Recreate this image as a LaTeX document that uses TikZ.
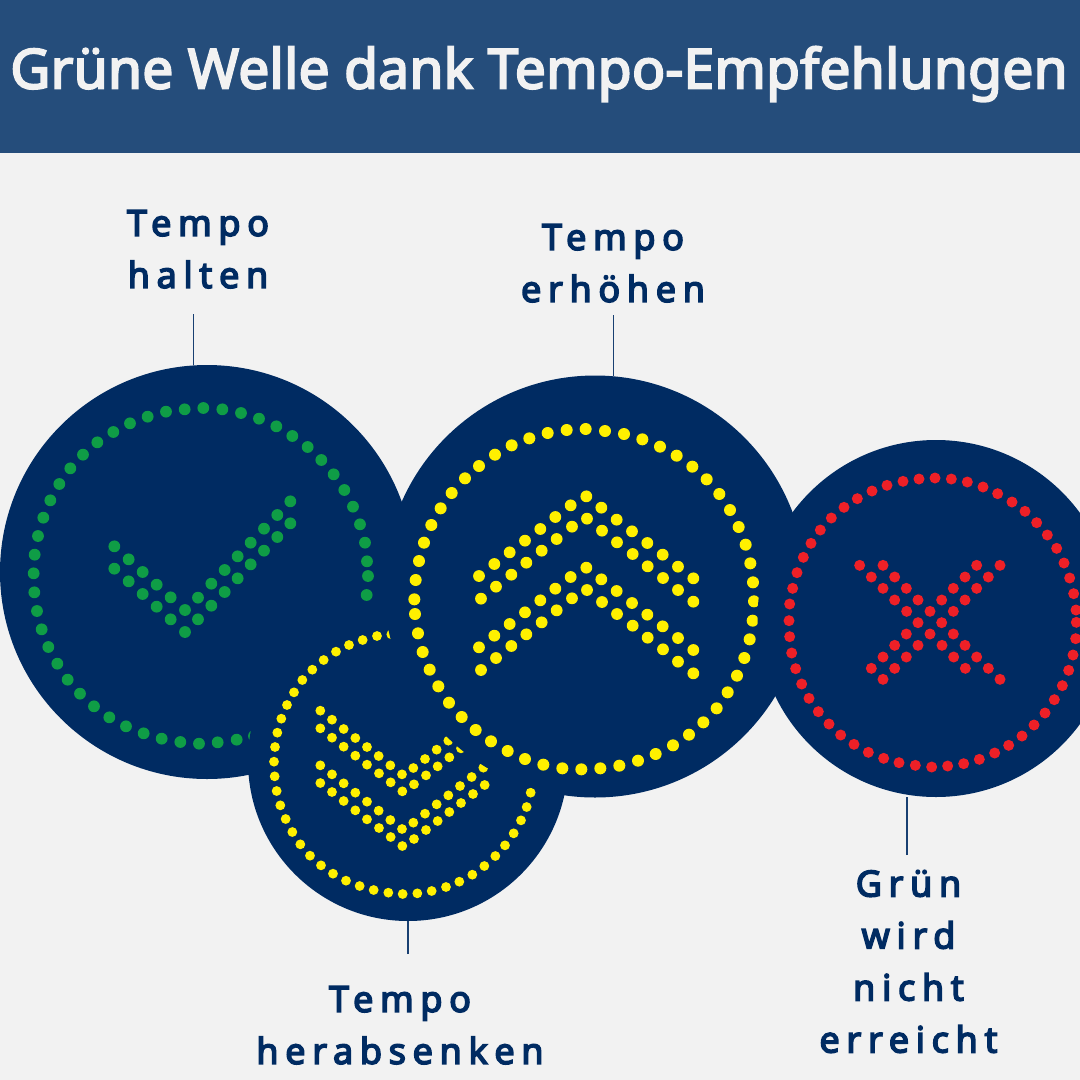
\documentclass[tikz,border=0pt]{standalone}
\usepackage{fontspec}
\setmainfont{Noto Sans}
\newfontfamily\titlefont[FakeBold=3.6,LetterSpace=0.55]{Noto Sans}
\newfontfamily\labelfont[FakeBold=4.2,LetterSpace=18.5]{Noto Sans}
\definecolor{pagebg}{HTML}{F2F2F2}
\definecolor{headbg}{HTML}{254D7B}
\definecolor{navy}{HTML}{002B62}
\definecolor{ledgreen}{HTML}{0F9D46}
\definecolor{ledyellow}{HTML}{FFF000}
\definecolor{ledred}{HTML}{EE2027}
\newcommand{\ledlist}[5]{\foreach \a/\b in {#5} \fill[#4] ({#1+\a/3},{#2+\b/3}) circle (#3pt);}
\tikzset{
  disc/.style={circle,fill=navy,inner sep=0pt,outer sep=0pt},
  caption/.style={font=\labelfont\fontsize{36}{52}\selectfont,text=navy,align=center,inner sep=0pt,anchor=north},
  leader/.style={draw=navy!90!white,line width=1.9pt}
}
\begin{document}
\begin{tikzpicture}[x=1pt,y=-1pt]
\useasboundingbox (0,0) rectangle (1080,1080);
\clip (0,0) rectangle (1080,1080);
\fill[pagebg] (0,0) rectangle (1080,1080);
\fill[headbg] (0,0) rectangle (1080,153);
\node[font=\titlefont\fontsize{55}{60}\selectfont,text=pagebg,inner sep=0pt,anchor=base] (title) at (539,88.5) {Grüne Welle dank Tempo-Empfehlungen};

% leader ends
\coordinate (t1) at (193.5,314);
\coordinate (t2) at (613.5,315);
\coordinate (t3) at (408,954);
\coordinate (t4) at (907,855);

% green disc
\node[disc,minimum size=414pt] (c1) at (207,572) {};
\ledlist{0}{360}{5.9}{ledgreen}{1100/705,1104/648,1101/604,1095/548,1080/493,1059/440,1033/390,1001/343,964/300,923/261,877/228,829/199,777/176,723/159,667/148,610/144,554/148,498/155,443/170,390/190,340/216,292/247,249/284,211/325,178/372,151/421,130/473,114/528,104/584,101/640,103/697,111/753,125/808,145/861,172/911,203/959,240/1001,282/1039,328/1072,378/1099,431/1120,485/1136,541/1146,597/1151,653/1147,710/1139,762/1128}
\ledlist{0}{360}{5.9}{ledgreen}{343/559,386/598,428/636,470/674,512/712,555/750,594/713,634/671,674/630,713/589,752/548,792/506,832/465,871/424,343/626,386/664,428/702,470/740,512/778,555/816,594/778,634/737,674/696,713/655,752/613,792/572,832/531,871/490}

% small yellow disc
\node[disc,minimum size=320pt] (c3) at (408,761) {};
\ledlist{240}{620}{4.9}{ledyellow}{454/43,411/48,368/60,327/75,288/95,251/120,217/149,187/180,162/217,141/255,124/296,112/338,105/381,102/425,104/469,110/513,121/556,137/597,157/636,181/673,210/707,243/736,279/761,318/782,359/798,401/810,445/818,488/822,532/820,575/813,618/801,658/785,697/764,733/738,766/708,795/676,821/640,843/601,860/561,872/518}
\ledlist{240}{620}{4.9}{ledyellow}{241/272,276/299,311/327,346/354,381/381,416/408,451/436,486/463,520/444,555/417,590/389,625/362,241/325,276/353,311/380,346/407,381/434,417/460,452/487,487/514,522/493,558/466,593/439,628/412,663/385,241/436,276/463,311/490,346/518,381/545,416/572,451/600,486/627,520/608,555/581,590/553,625/526,660/498,695/471,730/443,241/489,276/516,311/543,346/571,381/598,417/624,452/651,487/678,522/657,558/630,593/603,628/576,663/549,699/522,734/495}

% large yellow disc
\node[disc,minimum size=422pt] (c2) at (595,586.5) {};
\ledlist{390}{370}{6}{ledyellow}{587/177,645/183,702/192,757/208,810/230,860/257,907/290,950/328,988/372,1020/420,1046/471,1067/524,1081/580,1089/637,1092/694,1088/752,1079/808,1063/864,1041/917,1013/967,980/1015,940/1057,897/1094,849/1126,797/1152,744/1172,688/1187,631/1195,574/1198,517/1195,460/1184,405/1167,353/1143,303/1114,257/1080,215/1041,177/998,145/949,119/899,98/846,84/790,75/732,73/688,77/630,87/573,102/518,124/465,152/415,185/369,225/325,267/288,315/254,365/226,418/205,473/189,530/180}
\ledlist{390}{370}{5.9}{ledyellow}{267/618,313/582,359/547,405/512,451/477,496/441,542/406,589/379,634/413,680/449,726/484,772/519,818/554,864/590,910/625,273/686,318/650,364/614,409/578,455/542,500/507,546/470,591/446,636/482,681/517,728/552,773/589,819/624,864/660,910/695,267/832,313/797,359/762,405/727,451/691,496/656,542/621,589/593,634/628,680/663,726/699,772/734,818/769,864/804,910/840,273/900,318/864,364/828,409/793,455/757,500/721,546/685,591/660,636/696,681/732,728/767,773/803,819/838,864/875,910/910}

% red disc
\node[disc,minimum size=357pt] (c4) at (936,618.5) {};
\ledlist{770}{440}{5.5}{ledred}{495/114,544/117,592/126,639/141,683/161,726/186,765/214,800/248,832/285,860/325,882/369,899/414,911/461,918/510,919/547,917/596,909/645,896/691,877/737,853/779,825/819,792/855,756/888,716/916,674/939,628/958,581/971,533/978,485/981,436/976,387/968,341/955,295/937,252/913,212/885,177/852,145/815,117/775,95/732,77/686,65/639,59/590,57/542,59/492,68/445,81/398,100/352,123/310,151/270,184/234,222/202,262/176,306/153,351/136,399/124,447/117}
\ledlist{770}{440}{5.5}{ledred}{269/376,339/376,620/376,690/376,304/411,374/411,585/411,655/411,339/445,409/445,550/445,620/445,374/480,444/480,515/480,585/480,410/514,480/514,550/514,444/548,515/548,409/582,480/582,550/582,374/616,444/616,516/616,585/616,339/651,409/651,551/651,620/651,304/685,374/685,586/685,655/685,339/718,690/718}

% leaders
\draw[leader] (t1) -- (t1 |- c1.north);
\draw[leader] (t2) -- (t2 |- c2.north);
\draw[leader] (t3) -- (t3 |- c3.south);
\draw[leader] (t4) -- (t4 |- c4.south);

% captions
\node[caption] (l1) at (198,210) {Tempo\\halten};
\node[caption] (l2) at (613,224) {Tempo\\erhöhen};
\node[caption] (l3) at (400,986) {Tempo\\herabsenken};
\node[caption] (l4) at (908.5,870) {Grün\\wird\\nicht\\erreicht};
\end{tikzpicture}
\end{document}
